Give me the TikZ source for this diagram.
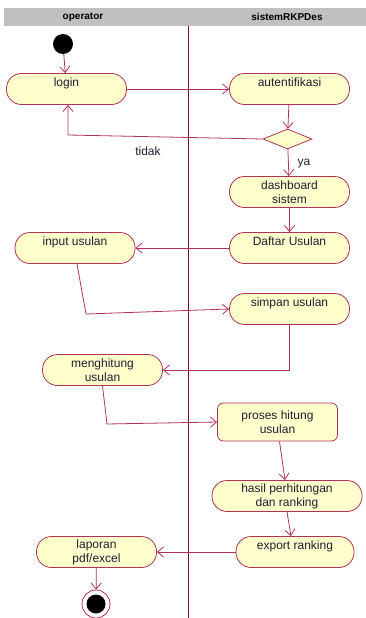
\documentclass[tikz,border=0pt]{standalone}
\usepackage{fontspec}
\setmainfont{Liberation Sans}
\usetikzlibrary{shapes.geometric,arrows.meta}

\definecolor{umlfill}{RGB}{255,255,204}
\definecolor{umlline}{RGB}{175,50,90}
\definecolor{lanegray}{RGB}{192,192,192}
\definecolor{lanerule}{RGB}{130,0,60}
\definecolor{umltext}{RGB}{30,30,50}

\begin{document}
\begin{tikzpicture}[
    x=1pt, y=-1pt,
    activity/.style={
        draw=umlline,
        line width=0.8pt,
        fill=umlfill,
        rounded corners=15pt,
        minimum width=120pt,
        minimum height=31pt,
        inner sep=2pt,
        align=center,
        text=umltext,
        font=\fontsize{12}{14}\selectfont
    },
    oneline/.style={text height=9pt, text depth=14pt},
    decision/.style={
        diamond,
        draw=umlline,
        line width=0.8pt,
        fill=umlfill,
        minimum width=49pt,
        minimum height=20pt,
        inner sep=0pt
    },
    flow/.style={draw=umlline, line width=0.8pt, -{Straight Barb[length=6pt,width=10pt]}},
    guard/.style={text=umltext, font=\fontsize{12}{14}\selectfont},
    lanetitle/.style={text=black, font=\bfseries\fontsize{10}{12}\selectfont}
]
    \useasboundingbox (0,0) rectangle (366,618);

    % Swimlanes
    \fill[lanegray] (4,8) rectangle (366,26);
    \node[lanetitle] (lane1) at (83,17) {operator};
    \node[lanetitle] (lane2) at (287,17) {sistemRKPDes};
    \draw[lanerule, line width=0.8pt] (188,26) -- (188,618);

    % Activities
    \node[circle, fill=black, minimum size=20pt, inner sep=0pt] (start) at (63,44) {};
    \node[activity, oneline] (login) at (66.5,89) {login};
    \node[activity, oneline] (auth) at (289.5,89) {autentifikasi};
    \node[decision] (cek) at (287.5,139) {};
    \node[activity] (dash) at (289.5,192) {dashboard\\sistem};
    \node[activity, oneline] (daftar) at (289.5,248) {Daftar Usulan};
    \node[activity, oneline] (input) at (75,248) {input usulan};
    \node[activity, oneline] (simpan) at (289.5,309) {simpan usulan};
    \node[activity] (hitung) at (102.5,370) {menghitung\\usulan};
    \node[activity, rounded corners=6pt, minimum height=38pt] (proses) at (277.5,422) {proses hitung\\usulan};
    \node[activity, minimum width=150pt] (hasil) at (287,496) {hasil perhitungan\\dan ranking};
    \node[activity, oneline, minimum width=118pt] (export) at (295,552) {export ranking};
    \node[activity] (laporan) at (96.5,552) {laporan\\pdf/excel};
    \node[circle, draw=umlline, line width=0.8pt, fill=white, minimum size=28pt, inner sep=0pt] (stop) at (96,604) {};
    \node[circle, fill=black, minimum size=19pt, inner sep=0pt] (stopdot) at (stop) {};

    % Bends
    \coordinate (bendtidak) at (68,135);
    \coordinate (bendinput) at (86,314);
    \coordinate (bendhitung) at (107,424);

    % Flows
    \draw[flow] (start) -- (login);
    \draw[flow] (login) -- (auth);
    \draw[flow] (auth) -- (cek);
    \draw[flow] (cek.west) -- (bendtidak) -- (bendtidak |- login.south);
    \node[guard] (tidak) at (148,151) {tidak};
    \draw[flow] (cek) -- (dash);
    \node[guard] (ya) at (304,164) {ya};
    \draw[flow] (dash) -- (daftar);
    \draw[flow] (daftar) -- (input);
    \draw[flow] ([xshift=2pt]input.south) -- (bendinput) -- (simpan.west);
    \draw[flow] (simpan.south) |- (hitung.east);
    \draw[flow] (hitung.south) -- (bendhitung) -- (proses.west);
    \draw[flow] ([xshift=2pt]proses.south) -- ([xshift=-2pt]hasil.north);
    \draw[flow] (hasil.south) -- ([xshift=-4pt]export.north);
    \draw[flow] (export) -- (laporan);
    \draw[flow] (laporan) -- (stop);

\end{tikzpicture}
\end{document}
